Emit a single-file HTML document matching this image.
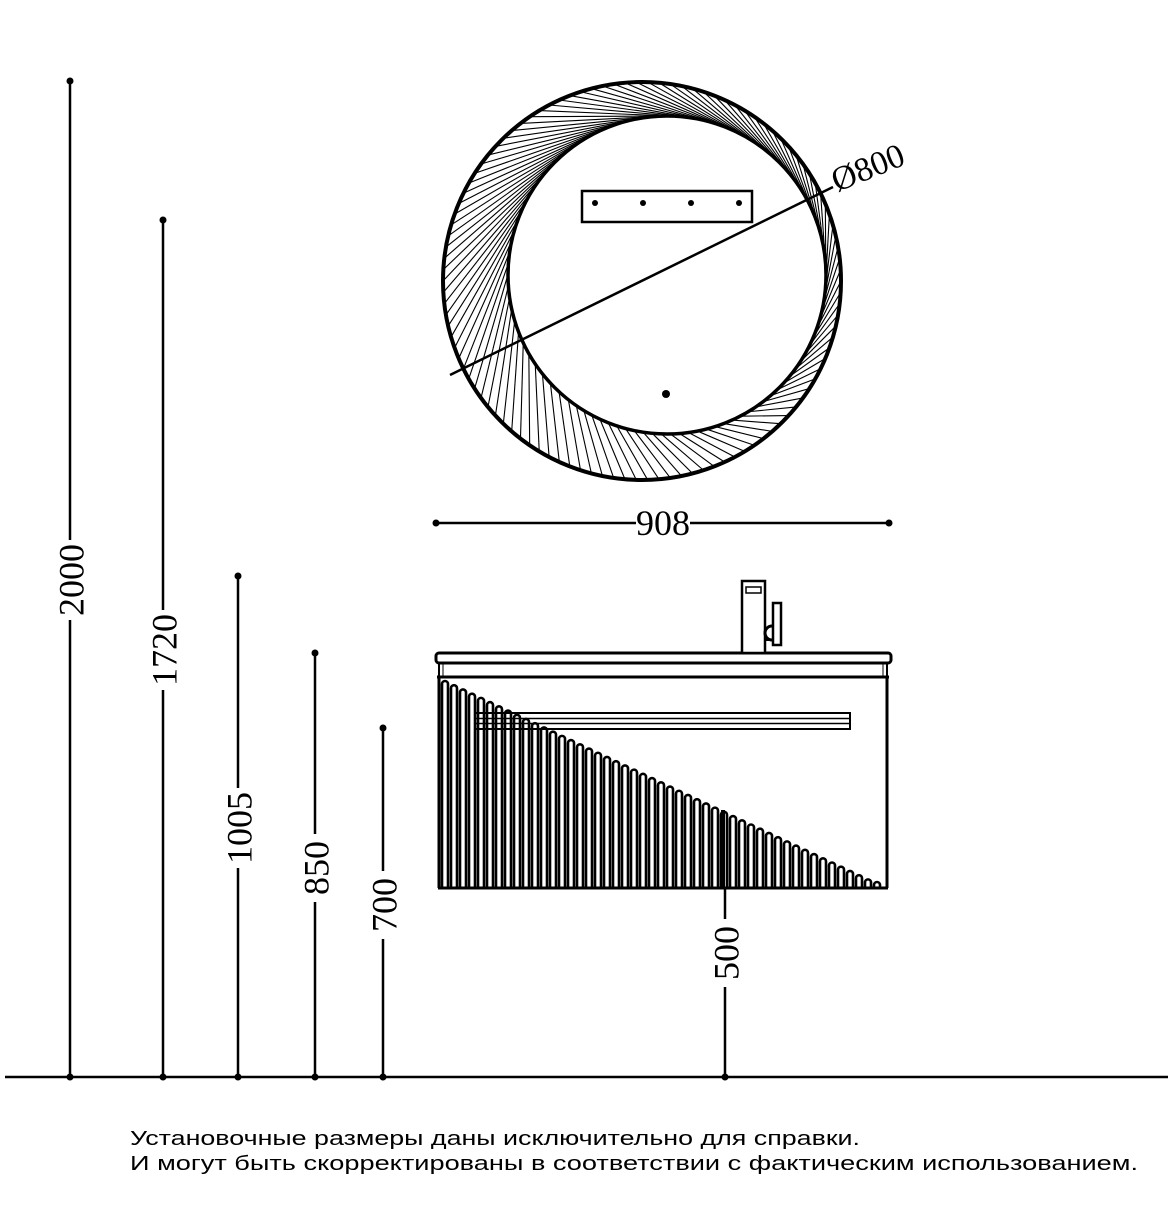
<!DOCTYPE html>
<html><head><meta charset="utf-8"><style>html,body{margin:0;padding:0;background:#fff}svg{display:block}</style></head>
<body>
<svg id="s" width="1168" height="1222" viewBox="0 0 1168 1222" xmlns="http://www.w3.org/2000/svg">
<rect width="1168" height="1222" fill="#fff"/>
<g id="hatch" stroke="#000" stroke-width="1.1"></g>
<g fill="none" stroke="#000">
<circle cx="642" cy="281" r="199" stroke-width="4"/>
<circle cx="667" cy="275" r="159" stroke-width="3.5" fill="#fff"/>
<rect x="582" y="191" width="170" height="31" stroke-width="2.5" fill="#fff"/>
<line x1="450" y1="375" x2="833" y2="187" stroke-width="2.5"/>
</g>
<g fill="#000"><circle cx="595" cy="203" r="3"/><circle cx="643" cy="203" r="3"/><circle cx="691" cy="203" r="3"/><circle cx="739" cy="203" r="3"/><circle cx="666" cy="394" r="4"/></g>
<text x="0" y="0" transform="translate(872,178) rotate(-22)" text-anchor="middle" font-family="Liberation Serif,serif" font-size="34">Ø800</text>

<line x1="5" y1="1077" x2="1168" y2="1077" stroke="#000" stroke-width="2.5"/>
<g id="dims" stroke="#000" stroke-width="2.5" fill="#000" font-family="Liberation Serif,serif" font-size="36"></g>

<g id="flutes"></g>
<g fill="none" stroke="#000">
<rect x="436" y="653" width="455" height="10" rx="3" stroke-width="3" fill="#fff"/>
<line x1="439" y1="663" x2="439" y2="677" stroke-width="2"/>
<line x1="887" y1="663" x2="887" y2="677" stroke-width="2"/>
<line x1="443" y1="664" x2="443" y2="676" stroke-width="1"/>
<line x1="883" y1="664" x2="883" y2="676" stroke-width="1"/>
<line x1="437" y1="677" x2="889" y2="677" stroke-width="3"/>
<line x1="439" y1="677" x2="439" y2="888" stroke-width="3"/>
<line x1="887" y1="677" x2="887" y2="888" stroke-width="3"/>
<line x1="438" y1="888" x2="888" y2="888" stroke-width="3"/>
<rect x="475" y="713" width="375" height="16" stroke-width="2"/>
<line x1="475" y1="718.5" x2="850" y2="718.5" stroke-width="1.5"/>
<line x1="475" y1="723.5" x2="850" y2="723.5" stroke-width="1.5"/>
<rect x="742" y="581" width="23" height="72" stroke-width="2.5" fill="#fff"/>
<rect x="746" y="587" width="15" height="6" stroke-width="1.5"/>
<rect x="773" y="603" width="8" height="42" stroke-width="2.5"/>
<path d="M772 626 a7 7 0 0 0 0 14" stroke-width="3"/>
<line x1="765" y1="640" x2="773" y2="640" stroke-width="2"/>
</g>

<text x="130" y="1145" font-family="Liberation Sans,sans-serif" font-size="20" textLength="730" lengthAdjust="spacingAndGlyphs">Установочные размеры даны исключительно для справки.</text>
<text x="130" y="1170" font-family="Liberation Sans,sans-serif" font-size="20" textLength="1008" lengthAdjust="spacingAndGlyphs">И могут быть скорректированы в соответствии с фактическим использованием.</text>
</svg>
<script>
(function(){
var NS="http://www.w3.org/2000/svg";
function el(p,t,a){var e=document.createElementNS(NS,t);for(var k in a)e.setAttribute(k,a[k]);p.appendChild(e);return e;}
var h=document.getElementById('hatch');
for(var i=0;i<110;i++){
  var th=i/110*2*Math.PI;
  var ox=642+199*Math.cos(th), oy=281+199*Math.sin(th);
  var d=0.35+0.35*Math.max(0,-Math.cos(th-0.3));
  var t2=th+d;
  var ix=667+159*Math.cos(t2), iy=275+159*Math.sin(t2);
  el(h,'line',{x1:ox,y1:oy,x2:ix,y2:iy});
}
var g=document.getElementById('dims');
var dims=[[70,81,580,'2000',30],[163,220,650,'1720',30],[238,576,828,'1005',30],[315,653,868,'850',24],[383,728,905,'700',24],[725,888,953,'500',24]];
dims.forEach(function(d){
  var x=d[0],tp=d[1],cy=d[2],half=d[4]+10;
  el(g,'line',{x1:x,y1:tp,x2:x,y2:cy-half});
  el(g,'line',{x1:x,y1:cy+half,x2:x,y2:1077});
  if(x!=725)el(g,'circle',{cx:x,cy:tp,r:3.5,stroke:'none'});
  el(g,'circle',{cx:x,cy:1077,r:3.5,stroke:'none'});
  var t=el(g,'text',{x:0,y:0,transform:'translate('+(x+1)+','+cy+') rotate(-90)','text-anchor':'middle',dy:'0.35em',stroke:'none'});
  t.textContent=d[3];
});
el(g,'line',{x1:436,y1:523,x2:636,y2:523});
el(g,'line',{x1:690,y1:523,x2:889,y2:523});
el(g,'circle',{cx:436,cy:523,r:3.5,stroke:'none'});
el(g,'circle',{cx:889,cy:523,r:3.5,stroke:'none'});
var t=el(g,'text',{x:663,y:535,'text-anchor':'middle',stroke:'none'});t.textContent='908';
var f=document.getElementById('flutes');
for(var j=0;j<49;j++){
  var fx=445+j*9;
  var ft=681+(fx-445)*(885-681)/(880-445);
  if(ft>882)ft=882;
  el(f,'path',{d:'M'+(fx-3)+' 888 L'+(fx-3)+' '+(ft+3)+' A3 3 0 0 1 '+(fx+3)+' '+(ft+3)+' L'+(fx+3)+' 888',fill:'none',stroke:'#000','stroke-width':2.6});
}
el(f,'line',{x1:723,y1:810,x2:723,y2:888,stroke:'#000','stroke-width':4});
})();
</script>
</body></html>
